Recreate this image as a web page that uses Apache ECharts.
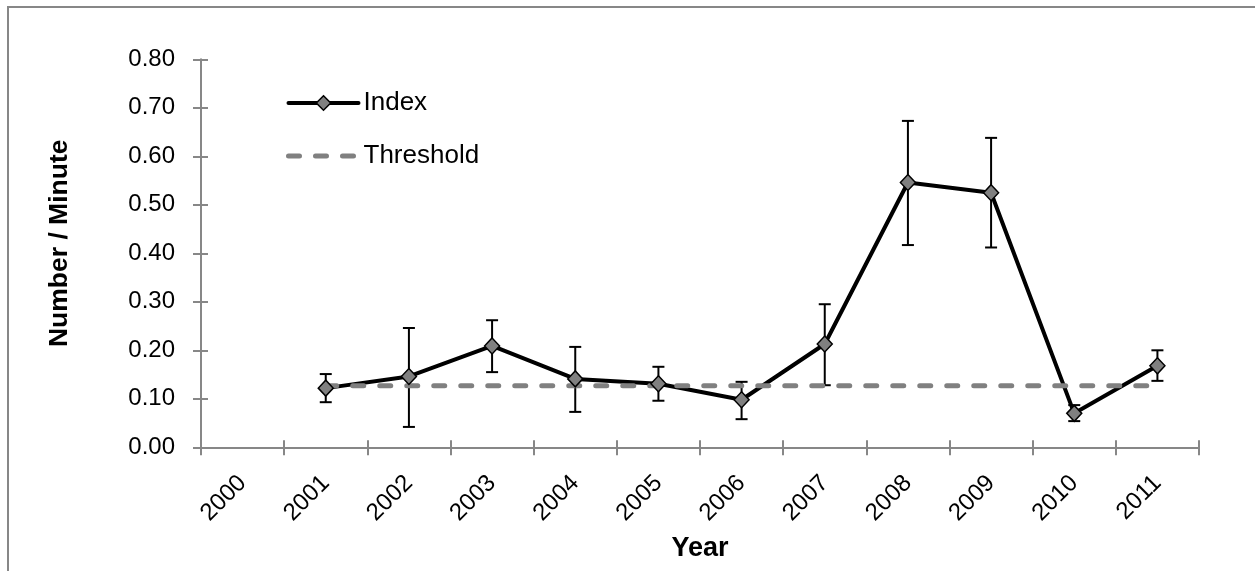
<!DOCTYPE html>
<html>
<head>
<meta charset="utf-8">
<script src="https://cdn.jsdelivr.net/npm/echarts@6/dist/echarts.min.js"></script>
<style>
  html, body { margin: 0; padding: 0; background: #ffffff; }
  #chart { width: 1255px; height: 571px; }
</style>
</head>
<body>
<div id="chart"></div>
<script>
// Yearly index with standard-error bars, compared with a fixed threshold
const years = ['2000', '2001', '2002', '2003', '2004', '2005', '2006', '2007', '2008', '2009', '2010', '2011'];
const indexValues = ['-', 0.122, 0.146, 0.209, 0.141, 0.131, 0.098, 0.213, 0.546, 0.525, 0.070, 0.168];
const errorLow = ['-', 0.093, 0.042, 0.155, 0.073, 0.096, 0.058, 0.128, 0.417, 0.412, 0.054, 0.137];
const errorHigh = ['-', 0.151, 0.246, 0.262, 0.207, 0.166, 0.135, 0.295, 0.673, 0.638, 0.087, 0.200];
const thresholdValues = ['-', 0.127, 0.127, 0.127, 0.127, 0.127, 0.127, 0.127, 0.127, 0.127, 0.127, 0.127];
const yTicks = { min: 0, max: 0.8, interval: 0.1 };

const FONT = "'Liberation Sans', Arial, Helvetica, sans-serif";
const AXIS_GRAY = '#878787';
const MARK_GRAY = '#808080';

const errorBarData = years.map((y, i) =>
  errorLow[i] === '-' ? null : [i, errorLow[i], errorHigh[i]]
).filter(Boolean);

const chart = echarts.init(document.getElementById('chart'), null, { renderer: 'canvas' });

chart.setOption({
  animation: false,
  backgroundColor: '#ffffff',
  textStyle: { fontFamily: FONT },
  grid: { left: 201, top: 59.3, right: 56, bottom: 123.7, containLabel: false },
  graphic: [
    {
      type: 'polyline',
      silent: true,
      shape: { points: [[8, 571], [8, 7], [1255, 7]] },
      style: { stroke: AXIS_GRAY, lineWidth: 2, fill: null }
    }
  ],
  legend: {
    orient: 'vertical',
    left: 281,
    top: 85,
    itemWidth: 70,
    itemHeight: 18,
    itemGap: 27,
    textStyle: { fontFamily: FONT, fontSize: 26, color: '#000000' },
    data: [
      {
        name: 'Index',
        itemStyle: { color: MARK_GRAY, borderColor: '#000000', borderWidth: 1.5 },
        lineStyle: { color: '#000000', width: 4, cap: 'round' }
      },
      {
        name: 'Threshold',
        itemStyle: { opacity: 0 },
        lineStyle: { color: MARK_GRAY, width: 5, type: [11, 16], cap: 'round' }
      }
    ]
  },
  xAxis: [
    {
      type: 'category',
      data: years,
      boundaryGap: true,
      name: 'Year',
      nameLocation: 'middle',
      nameGap: 88,
      nameTextStyle: { fontFamily: FONT, fontSize: 27, fontWeight: 'bold', color: '#000000' },
      axisLine: { show: true, lineStyle: { color: AXIS_GRAY, width: 2 } },
      axisTick: { show: true, inside: false, length: 8, alignWithLabel: false, lineStyle: { color: AXIS_GRAY, width: 2 } },
      axisLabel: { interval: 0, rotate: 45, margin: 32, fontFamily: FONT, fontSize: 24, color: '#000000' },
      splitLine: { show: false }
    },
    {
      // inner half of the crossing tick marks
      type: 'category',
      data: years,
      position: 'bottom',
      boundaryGap: true,
      axisLine: { show: false },
      axisTick: { show: true, inside: true, length: 7, lineStyle: { color: AXIS_GRAY, width: 2 } },
      axisLabel: { show: false },
      splitLine: { show: false }
    }
  ],
  yAxis: [
    {
      type: 'value',
      min: yTicks.min,
      max: yTicks.max,
      interval: yTicks.interval,
      name: 'Number / Minute',
      nameLocation: 'middle',
      nameGap: 128,
      nameRotate: 90,
      nameTextStyle: { fontFamily: FONT, fontSize: 26.5, fontWeight: 'bold', color: '#000000', padding: [0, 0, 0, 20] },
      axisLine: { show: true, lineStyle: { color: AXIS_GRAY, width: 2 } },
      axisTick: { show: true, inside: false, length: 8, lineStyle: { color: AXIS_GRAY, width: 2 } },
      axisLabel: { margin: 26, fontFamily: FONT, fontSize: 24, color: '#000000', formatter: v => v.toFixed(2) },
      splitLine: { show: false }
    },
    {
      type: 'value',
      position: 'left',
      min: yTicks.min,
      max: yTicks.max,
      interval: yTicks.interval,
      axisLine: { show: false },
      axisTick: { show: true, inside: true, length: 7, lineStyle: { color: AXIS_GRAY, width: 2 } },
      axisLabel: { show: false },
      splitLine: { show: false }
    }
  ],
  series: [
    {
      name: 'Error',
      type: 'custom',
      z: 2,
      silent: true,
      data: errorBarData,
      renderItem: function (params, api) {
        const x = api.value(0);
        const lo = api.coord([x, api.value(1)]);
        const hi = api.coord([x, api.value(2)]);
        const half = 6;
        const style = { stroke: '#000000', lineWidth: 2 };
        return {
          type: 'group',
          children: [
            { type: 'line', shape: { x1: lo[0], y1: lo[1], x2: hi[0], y2: hi[1] }, style: style },
            { type: 'line', shape: { x1: lo[0] - half, y1: lo[1], x2: lo[0] + half, y2: lo[1] }, style: style },
            { type: 'line', shape: { x1: hi[0] - half, y1: hi[1], x2: hi[0] + half, y2: hi[1] }, style: style }
          ]
        };
      }
    },
    {
      name: 'Index',
      type: 'line',
      z: 2,
      data: indexValues,
      symbol: 'diamond',
      showSymbol: false,
      itemStyle: { color: MARK_GRAY, borderColor: '#000000', borderWidth: 1.5 },
      lineStyle: { color: '#000000', width: 4, join: 'round' },
      silent: true
    },
    {
      name: 'Threshold',
      type: 'line',
      z: 3,
      data: thresholdValues,
      symbol: 'none',
      itemStyle: { color: MARK_GRAY },
      lineStyle: { color: MARK_GRAY, width: 5, type: [11, 16], cap: 'round' },
      silent: true
    },
    {
      name: 'Index markers',
      type: 'scatter',
      z: 4,
      data: indexValues,
      symbol: 'diamond',
      symbolSize: [15, 16],
      itemStyle: { color: MARK_GRAY, borderColor: '#000000', borderWidth: 1.5, opacity: 1 },
      silent: true
    }
  ]
});
</script>
</body>
</html>
